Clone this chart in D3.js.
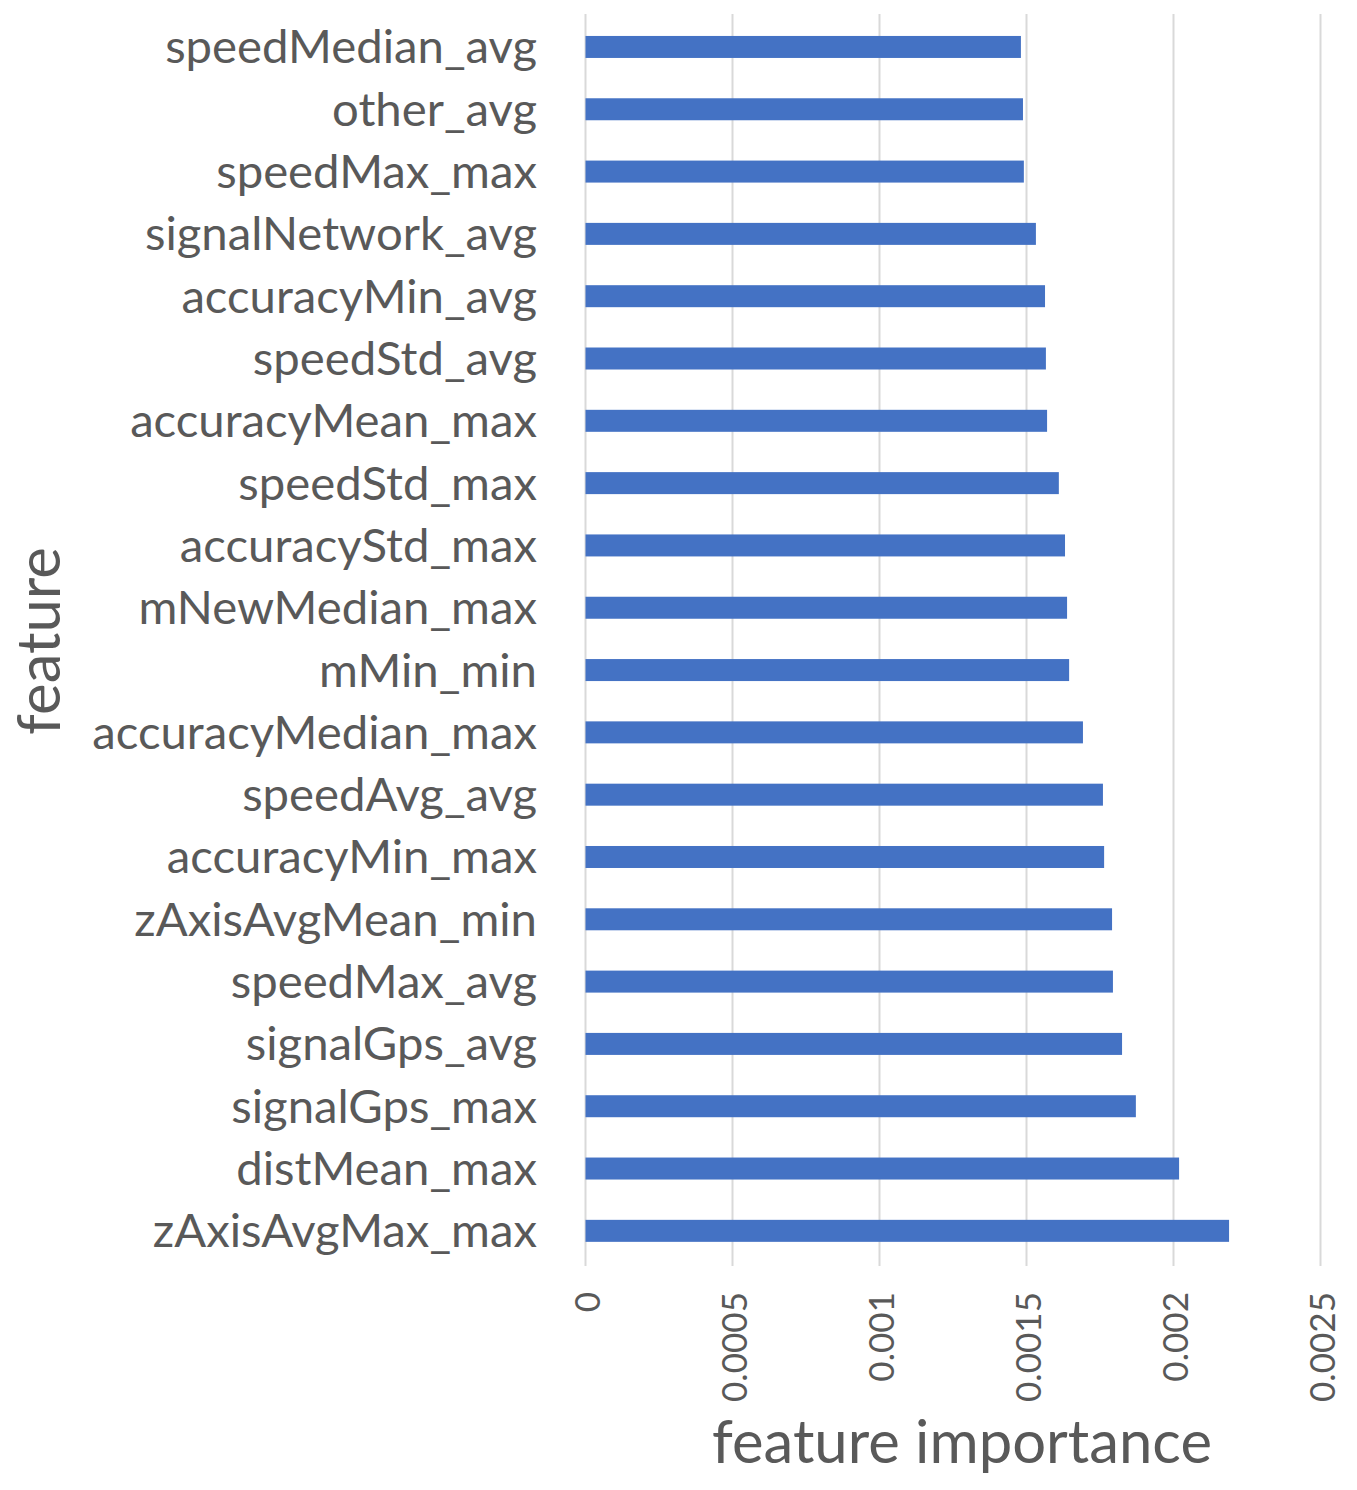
<!DOCTYPE html>
<html>
<head>
<meta charset="utf-8">
<script src="https://cdn.jsdelivr.net/npm/d3@7"></script>
<style>
  html, body { margin: 0; padding: 0; background: #ffffff; }
  svg { display: block; }
</style>
</head>
<body>
<svg id="chart" width="1357" height="1490"></svg>
<script>
// ---- data ----
const features = [
  "speedMedian_avg", "other_avg", "speedMax_max", "signalNetwork_avg",
  "accuracyMin_avg", "speedStd_avg", "accuracyMean_max", "speedStd_max",
  "accuracyStd_max", "mNewMedian_max", "mMin_min", "accuracyMedian_max",
  "speedAvg_avg", "accuracyMin_max", "zAxisAvgMean_min", "speedMax_avg",
  "signalGps_avg", "signalGps_max", "distMean_max", "zAxisAvgMax_max"
];
const importance = [
  0.001481, 0.001488, 0.001491, 0.001532,
  0.001563, 0.001566, 0.001570, 0.001610,
  0.001631, 0.001638, 0.001645, 0.001692,
  0.001760, 0.001764, 0.001791, 0.001794,
  0.001825, 0.001872, 0.002019, 0.002189
];
const xTicks = [0, 0.0005, 0.001, 0.0015, 0.002, 0.0025];
const xTickLabels = ["0", "0.0005", "0.001", "0.0015", "0.002", "0.0025"];
const xTitle = "feature importance";
const yTitle = "feature";

// ---- layout ----
const svg = d3.select("#chart");
const FONT = "Lato, 'Open Sans', 'DejaVu Sans', sans-serif";
const TXT = "#595959";

const x = d3.scaleLinear().domain([0, 0.0025]).range([585.5, 1320.5]);
const y = d3.scaleBand().domain(features).range([15.8, 1262])
  .paddingInner(0.647).paddingOuter(0.3235);

// helper: find font size so that a string has a target width
function fitSize(str, targetW, weight) {
  const t = svg.append("text").attr("font-family", FONT).attr("font-size", 100)
    .attr("font-weight", weight || "normal").text(str);
  const w = t.node().getComputedTextLength();
  t.remove();
  return 100 * targetW / w;
}

// gridlines
svg.append("g").selectAll("line").data(xTicks).join("line")
  .attr("x1", d => x(d)).attr("x2", d => x(d))
  .attr("y1", 14).attr("y2", 1266)
  .attr("stroke", "#d9d9d9").attr("stroke-width", 2);

// bars
svg.append("g").selectAll("rect").data(features).join("rect")
  .attr("x", x(0))
  .attr("y", d => y(d))
  .attr("width", (d, i) => x(importance[i]) - x(0))
  .attr("height", y.bandwidth())
  .attr("fill", "#4472c4");

// category labels
const labelSize = fitSize("speedMedian_avg", 372);
svg.append("g").selectAll("text").data(features).join("text")
  .attr("x", 537)
  .attr("y", d => y(d) + y.bandwidth() / 2 - 2)
  .attr("text-anchor", "end")
  .attr("dominant-baseline", "central")
  .attr("font-family", FONT)
  .attr("font-size", labelSize)
  .attr("fill", TXT)
  .text(d => d);

// x tick labels (rotated)
const tickSize = fitSize("0.0005", 110);
svg.append("g").selectAll("text").data(xTicks).join("text")
  .attr("transform", d => `translate(${x(d)},1292) rotate(-90)`)
  .attr("text-anchor", "end")
  .attr("dominant-baseline", "central")
  .attr("font-family", FONT)
  .attr("font-size", tickSize)
  .attr("fill", TXT)
  .text((d, i) => xTickLabels[i]);

// axis titles
const titleSize = fitSize(xTitle, 500);
svg.append("text")
  .attr("x", 962).attr("y", 1463)
  .attr("text-anchor", "middle")
  .attr("font-family", FONT)
  .attr("font-size", titleSize)
  .attr("fill", TXT)
  .text(xTitle);

svg.append("text")
  .attr("transform", "translate(60,641) rotate(-90)")
  .attr("text-anchor", "middle")
  .attr("font-family", FONT)
  .attr("font-size", titleSize)
  .attr("fill", TXT)
  .text(yTitle);
</script>
</body>
</html>
